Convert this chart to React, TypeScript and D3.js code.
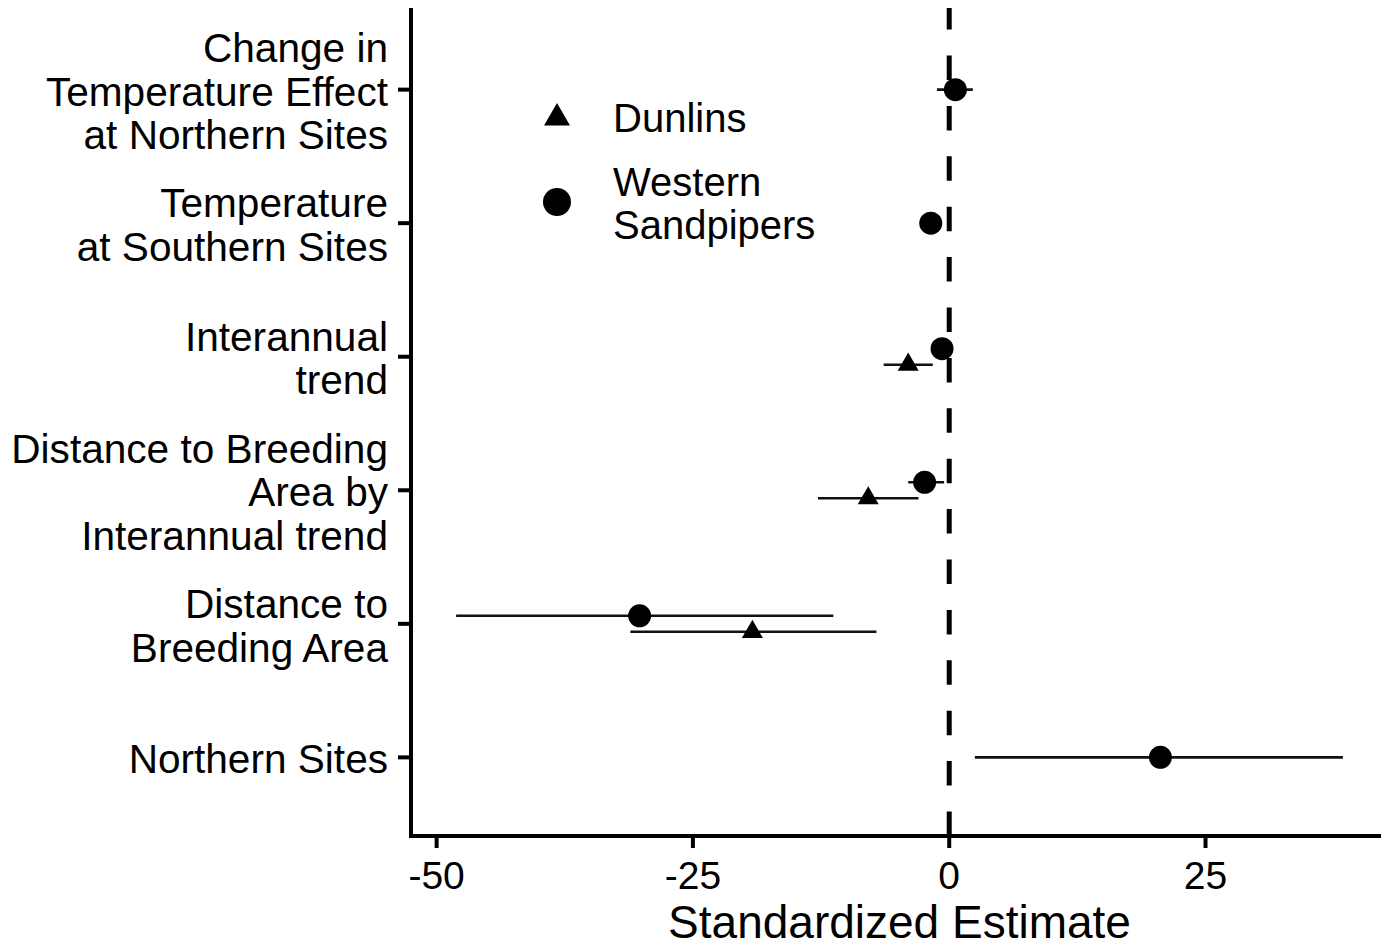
import React from "react";
import * as d3 from "d3";

const categories = [
  "Change in\nTemperature Effect\nat Northern Sites",
  "Temperature\nat Southern Sites",
  "Interannual\ntrend",
  "Distance to Breeding\nArea by\nInterannual trend",
  "Distance to\nBreeding Area",
  "Northern Sites",
];

// Western Sandpipers (circle)
const sandpiperCats = [0, 1, 2, 3, 4, 5];
const sandpiperEst = [0.6, -1.8, -0.7, -2.4, -30.2, 20.6];
const sandpiperLow = [-1.2, -2.6, -1.3, -4.0, -48.1, 2.5];
const sandpiperHigh = [2.3, -1.0, -0.1, -0.5, -11.3, 38.4];

// Dunlins (triangle)
const dunlinCats = [2, 3, 4];
const dunlinEst = [-4.0, -7.9, -19.2];
const dunlinLow = [-6.4, -12.8, -31.1];
const dunlinHigh = [-1.6, -3.0, -7.1];

const xTicks = [-50, -25, 0, 25];
const legendLabels = ["Dunlins", "Western\nSandpipers"];
const xTitle = "Standardized Estimate";

const W = 1381;
const H = 948;
const M = { left: 411, right: 1388, top: 8, bottom: 836 };
const FONT = "'Liberation Sans', Arial, Helvetica, sans-serif";

export default function App() {
  const x = d3.scaleLinear().domain([-52.5, 42.8]).range([M.left, M.right]);
  const y = d3
    .scalePoint<number>()
    .domain(categories.map((_, i) => i))
    .range([M.top + 1.5, M.bottom + 1.5])
    .padding(0.6);

  const DODGE = 8;
  const hasBoth = (ci: number) => sandpiperCats.includes(ci) && dunlinCats.includes(ci);

  const circleSym = d3.symbol().type(d3.symbolCircle).size(Math.PI * 11.5 * 11.5)();
  const triSym = d3.symbol().type(d3.symbolTriangle).size(0.433 * 21 * 21)();
  const legCircle = d3.symbol().type(d3.symbolCircle).size(Math.PI * 14 * 14)();
  const legTri = d3.symbol().type(d3.symbolTriangle).size(0.433 * 26 * 26)();

  const zeroX = x(0);

  return (
    <svg
      width={W}
      height={H}
      style={{ position: "absolute", left: 0, top: 0, background: "#fff" }}
      fontFamily={FONT}
    >
      {/* dashed zero line */}
      <line
        x1={zeroX}
        x2={zeroX}
        y1={M.bottom}
        y2={M.top}
        stroke="#000"
        strokeWidth={5}
        strokeDasharray="24.5 25.9"
      />

      {/* error bars */}
      {sandpiperCats.map((ci, i) => {
        const yy = (y(ci) as number) - (hasBoth(ci) ? DODGE : 0);
        return (
          <line
            key={"sl" + i}
            x1={x(sandpiperLow[i])}
            x2={x(sandpiperHigh[i])}
            y1={yy}
            y2={yy}
            stroke="#111"
            strokeWidth={2.6}
          />
        );
      })}
      {dunlinCats.map((ci, i) => {
        const yy = (y(ci) as number) + (hasBoth(ci) ? DODGE : 0);
        return (
          <line
            key={"dl" + i}
            x1={x(dunlinLow[i])}
            x2={x(dunlinHigh[i])}
            y1={yy}
            y2={yy}
            stroke="#111"
            strokeWidth={2.6}
          />
        );
      })}

      {/* points */}
      {sandpiperCats.map((ci, i) => {
        const yy = (y(ci) as number) - (hasBoth(ci) ? DODGE : 0);
        return (
          <path key={"sp" + i} d={circleSym as string} transform={`translate(${x(sandpiperEst[i])},${yy})`} fill="#000" />
        );
      })}
      {dunlinCats.map((ci, i) => {
        const yy = (y(ci) as number) + (hasBoth(ci) ? DODGE : 0);
        return (
          <path key={"dp" + i} d={triSym as string} transform={`translate(${x(dunlinEst[i])},${yy})`} fill="#000" />
        );
      })}

      {/* axes */}
      <line x1={M.left} x2={M.left} y1={M.top} y2={M.bottom + 2} stroke="#000" strokeWidth={4} />
      <line x1={M.left - 2} x2={M.right} y1={M.bottom} y2={M.bottom} stroke="#000" strokeWidth={4} />

      {/* y ticks and labels */}
      {categories.map((c, i) => {
        const yy = y(i) as number;
        const lines = c.split("\n");
        const lh = 43.5;
        const first = yy + 16 - ((lines.length - 1) * lh) / 2;
        return (
          <g key={"yc" + i}>
            <line x1={M.left - 13} x2={M.left} y1={yy} y2={yy} stroke="#000" strokeWidth={4} />
            <text x={388} y={first} textAnchor="end" fontSize={40.6} fill="#000">
              {lines.map((l, k) => (
                <tspan key={k} x={388} y={first + k * lh}>
                  {l}
                </tspan>
              ))}
            </text>
          </g>
        );
      })}

      {/* x ticks and labels */}
      {xTicks.map((t) => (
        <g key={"xt" + t}>
          <line x1={x(t)} x2={x(t)} y1={M.bottom} y2={M.bottom + 12} stroke="#000" strokeWidth={4} />
          <text x={x(t)} y={889} textAnchor="middle" fontSize={39} fill="#000">
            {t}
          </text>
        </g>
      ))}

      <text x={(M.left + M.right) / 2} y={938} textAnchor="middle" fontSize={46} fill="#000">
        {xTitle}
      </text>

      {/* legend */}
      <path d={legTri as string} transform="translate(557,118)" fill="#000" />
      <path d={legCircle as string} transform="translate(557,202)" fill="#000" />
      <text x={613} y={132} fontSize={40} fill="#000">
        {legendLabels[0]}
      </text>
      <text x={613} y={196} fontSize={40} fill="#000">
        {legendLabels[1].split("\n").map((l, k) => (
          <tspan key={k} x={613} y={196 + k * 43}>
            {l}
          </tspan>
        ))}
      </text>
    </svg>
  );
}
